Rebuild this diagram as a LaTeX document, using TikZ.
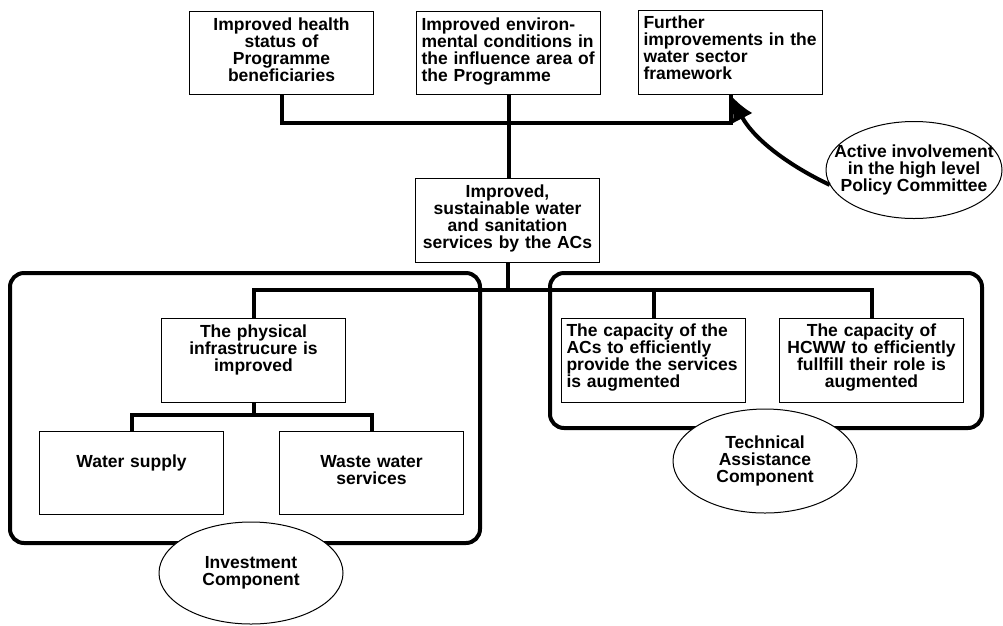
\documentclass[tikz,border=0pt]{standalone}
\usepackage{fontspec}
\setmainfont{Liberation Sans}
\usetikzlibrary{shapes.geometric,arrows.meta}
\begin{document}
\begin{tikzpicture}[x=1pt,y=-1pt,
  every node/.style={font=\fontsize{17.5}{17}\selectfont\bfseries},
  box/.style={draw,line width=1pt,fill=white,inner xsep=5pt,inner ysep=0pt,text width=174pt,anchor=north west},
  conn/.style={line width=4pt},
  group/.style={line width=4pt,rounded corners=14pt},
  oval/.style={ellipse,draw,fill=white,line width=1pt,inner sep=0pt,align=center},
  arr/.style={line width=4pt,-{Latex[length=26pt,width=22pt]}}
]
\fill[white] (0,0) rectangle (1003,625);
\useasboundingbox (0,0) rectangle (1003,625);

% component groups
\draw[group] (10,273) rectangle (480,543);
\draw[group] (550,273) rectangle (982,428);

% top level
\node[box,align=center,text height=19pt,text depth=64pt] (b1) at (189,11) {Improved health\\status of\\Programme\\beneficiaries};
\node[box,align=left,text height=19pt,text depth=64pt] (b2) at (416,11) {Improved environ-\\mental conditions in\\the influence area of\\the Programme};
\node[box,align=left,text height=18pt,text depth=66pt] (b3) at (638,10) {Further\\improvements in the\\water sector\\framework};

% middle
\node[box,align=center,text height=19pt,text depth=65pt] (mid) at (415,178) {Improved,\\sustainable water\\and sanitation\\services by the ACs};

% investment side
\node[box,align=center,text height=19pt,text depth=65pt] (phys) at (161,318) {The physical\\infrastrucure is\\improved};
\node[box,align=center,text height=36pt,text depth=47pt] (water) at (39,431) {Water supply};
\node[box,align=center,text height=36pt,text depth=47pt] (waste) at (279,431) {Waste water\\services};

% technical side
\node[box,align=left,text height=18pt,text depth=66pt] (cap1) at (561,318) {The capacity of the\\ACs to efficiently\\provide the services\\is augmented};
\node[box,align=center,text height=18pt,text depth=66pt] (cap2) at (779,318) {The capacity of\\HCWW to efficiently\\fullfill their role is\\augmented};

% junctions
\coordinate (j) at (507,290);
\coordinate (k) at (252,415);

% connectors
\draw[conn] (b1.south) -- ++(0,28) -| (b3.south);
\draw[conn] (b2.south) -- (b2.south |- mid.north);
\draw[conn] (mid.south) -- (mid.south |- j);
\draw[conn] (phys.north) |- (cap2.north |- j) -- (cap2.north);
\draw[conn] (cap1.north) -- (cap1.north |- j);
\draw[conn] (phys.south) -- (phys.south |- k);
\draw[conn] (water.north) |- (waste.north |- k) -- (waste.north);

% ellipses
\node[oval,minimum width=184pt,minimum height=102pt] (inv) at (251,573) {Investment\\Component};
\node[oval,minimum width=184pt,minimum height=104pt] (tech) at (765,461) {Technical\\Assistance\\Component};
\node[oval,minimum width=176pt,minimum height=97pt] (pol) at (914,170) {};
\node[align=center,inner sep=0pt] (poltext) at (pol.center) {Active involvement\\in the high level\\Policy Committee};

% policy arrow
\draw[arr] (pol.190) .. controls (782,162) and (752,136) .. (b3.south);
\end{tikzpicture}
\end{document}
